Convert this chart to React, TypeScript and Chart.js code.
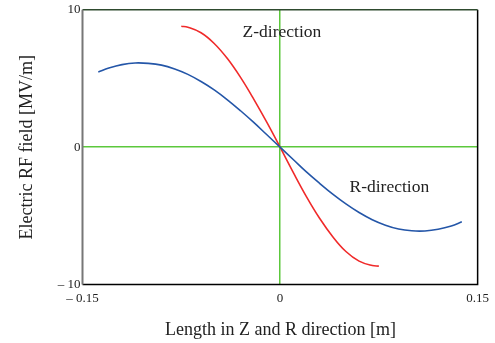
import React, { useEffect, useRef } from "react";
import { Chart, registerables } from "chart.js";

Chart.register(...registerables);

const rX = [-0.138, -0.13, -0.12, -0.11, -0.1, -0.09, -0.08, -0.07, -0.06, -0.05, -0.04, -0.03, -0.02, -0.01, 0, 0.01, 0.02, 0.03, 0.04, 0.05, 0.06, 0.07, 0.08, 0.09, 0.1, 0.11, 0.12, 0.13, 0.138];
const rY = [5.48, 5.76, 6.01, 6.13, 6.1, 5.97, 5.69, 5.3, 4.78, 4.17, 3.45, 2.65, 1.8, 0.9, 0, -0.9, -1.8, -2.63, -3.42, -4.13, -4.76, -5.28, -5.68, -5.96, -6.09, -6.1, -5.98, -5.74, -5.44];

const zX = [-0.075, -0.07, -0.06, -0.05, -0.04, -0.03, -0.02, -0.01, 0, 0.01, 0.02, 0.03, 0.04, 0.05, 0.06, 0.07, 0.075];
const zY = [8.8, 8.73, 8.33, 7.55, 6.45, 5.08, 3.5, 1.8, 0, -1.84, -3.6, -5.18, -6.52, -7.6, -8.3, -8.62, -8.66];

const xTickValues = [-0.15, 0, 0.15];
const xTickLabels = ["\u2013 0.15", "0", "0.15"];
const yTickValues = [-10, 0, 10];
const yTickLabels = ["\u2013 10", "0", "10"];

const xTitle = "Length in Z and R direction [m]";
const yTitle = "Electric RF field [MV/m]";
const zLabel = "Z-direction";
const rLabel = "R-direction";

const SERIF = "'Liberation Serif', 'Times New Roman', serif";

export default function App() {
  const ref = useRef<HTMLCanvasElement | null>(null);

  useEffect(() => {
    document.body.style.margin = "0";
    const canvas = ref.current;
    if (!canvas) return;

    const decor = {
      id: "decor",
      afterDatasetsDraw(chart: any) {
        const { ctx, chartArea } = chart;
        const { left, right, top, bottom } = chartArea;
        const xs = chart.scales.x;
        const ys = chart.scales.y;
        ctx.save();
        ctx.lineWidth = 1.5;
        ctx.strokeStyle = "#000";
        ctx.beginPath();
        ctx.moveTo(left, bottom);
        ctx.lineTo(right, bottom);
        ctx.lineTo(right, top);
        ctx.stroke();
        ctx.strokeStyle = "#2e4a2e";
        ctx.beginPath();
        ctx.moveTo(left, top);
        ctx.lineTo(right, top);
        ctx.stroke();
        ctx.strokeStyle = "#777";
        ctx.lineWidth = 2;
        ctx.beginPath();
        ctx.moveTo(left, top);
        ctx.lineTo(left, bottom);
        ctx.stroke();
        ctx.fillStyle = "#222";
        ctx.font = `17.5px ${SERIF}`;
        ctx.textAlign = "left";
        ctx.textBaseline = "alphabetic";
        ctx.fillText(zLabel, xs.getPixelForValue(-0.0285), ys.getPixelForValue(8.0));
        ctx.fillText(rLabel, xs.getPixelForValue(0.0527), ys.getPixelForValue(-3.3));
        ctx.font = `18px ${SERIF}`;
        ctx.textAlign = "center";
        ctx.fillText(xTitle, (left + right) / 2 + 0.5, 335);
        ctx.save();
        ctx.translate(32, (top + bottom) / 2);
        ctx.rotate(-Math.PI / 2);
        ctx.fillText(yTitle, 0, 0);
        ctx.restore();
        ctx.restore();
      },
    };

    const chart = new Chart(canvas, {
      type: "scatter",
      data: {
        datasets: [
          {
            label: "R",
            data: rX.map((x, i) => ({ x, y: rY[i] })),
            showLine: true,
            borderColor: "#2456a8",
            borderWidth: 1.6,
            pointRadius: 0,
            tension: 0.4,
          },
          {
            label: "Z",
            data: zX.map((x, i) => ({ x, y: zY[i] })),
            showLine: true,
            borderColor: "#f02a2a",
            borderWidth: 1.6,
            pointRadius: 0,
            tension: 0.4,
          },
        ],
      },
      options: {
        animation: false,
        responsive: true,
        maintainAspectRatio: false,
        layout: { padding: { top: 9, right: 15.5, left: 0, bottom: 0 } },
        plugins: { legend: { display: false }, tooltip: { enabled: false } },
        scales: {
          x: {
            type: "linear",
            min: -0.15,
            max: 0.15,
            afterBuildTicks: (s: any) => {
              s.ticks = xTickValues.map((v) => ({ value: v }));
            },
            afterFit: (s: any) => {
              s.height = 58.5;
            },
            border: { display: false },
            grid: {
              drawTicks: false,
              tickLength: 0,
              lineWidth: 1.5,
              color: (c: any) => (c.tick && c.tick.value === 0 ? "#5cc83c" : "rgba(0,0,0,0)"),
            },
            ticks: {
              padding: 6,
              maxRotation: 0,
              autoSkip: false,
              color: "#222",
              font: { family: SERIF, size: 13 },
              callback: (v: any) => {
                const i = xTickValues.indexOf(Number(v));
                return i >= 0 ? xTickLabels[i] : "";
              },
            },
          },
          y: {
            type: "linear",
            min: -10,
            max: 10,
            afterBuildTicks: (s: any) => {
              s.ticks = yTickValues.map((v) => ({ value: v }));
            },
            afterFit: (s: any) => {
              s.width = 82.5;
            },
            border: { display: false },
            grid: {
              drawTicks: false,
              tickLength: 0,
              lineWidth: 1.5,
              color: (c: any) => (c.tick && c.tick.value === 0 ? "#5cc83c" : "rgba(0,0,0,0)"),
            },
            ticks: {
              padding: 2,
              autoSkip: false,
              color: "#222",
              font: { family: SERIF, size: 13 },
              callback: (v: any) => {
                const i = yTickValues.indexOf(Number(v));
                return i >= 0 ? yTickLabels[i] : "";
              },
            },
          },
        },
      },
      plugins: [decor],
    } as any);

    return () => chart.destroy();
  }, []);

  return (
    <div style={{ position: "relative", width: 495, height: 343, background: "#fff" }}>
      <canvas ref={ref} />
    </div>
  );
}
